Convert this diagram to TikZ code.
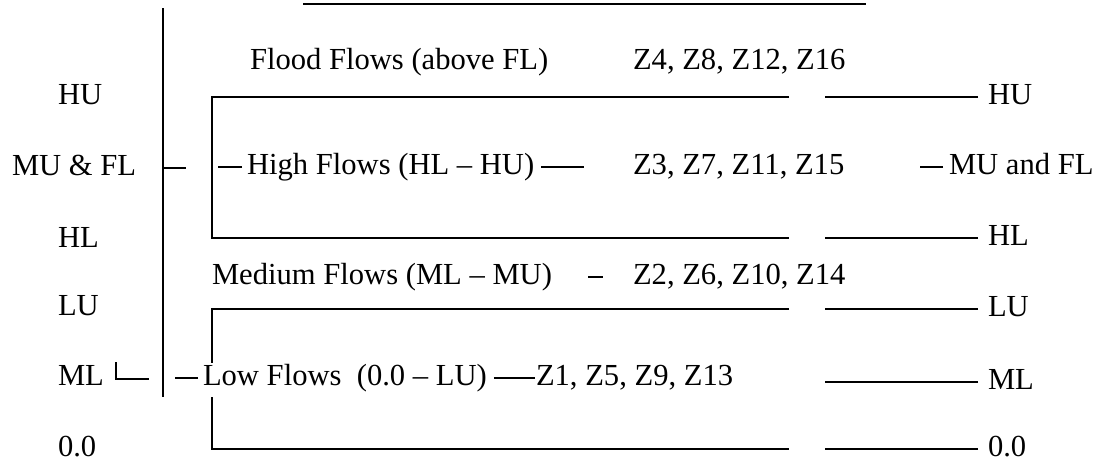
\documentclass[tikz,border=0pt]{standalone}
\usepackage{fontspec}
\setmainfont{Liberation Serif}
\begin{document}
\begin{tikzpicture}[x=0.5pt, y=-0.5pt, line width=1pt,
  lbl/.style={inner sep=0pt, anchor=west, text height=0.7em, text depth=0pt,
    font=\fontsize{15.3}{18}\selectfont}]
  \useasboundingbox (0,0) rectangle (1099,461);

  % title rule, its text lies above the cut
  \draw (303,4) -- (866,4);

  % level names on the left
  \node (lhu) [lbl] at (57,97) {HU};
  \node (lmufl) [lbl] at (11,168) {MU \& FL};
  \node (lhl) [lbl] at (57,240) {HL};
  \node (llu) [lbl] at (57,308) {LU};
  \node (lml) [lbl] at (57,378) {ML};
  \node (lzero) [lbl] at (57,449) {0.0};

  % axis
  \coordinate (axtop) at (163,8);
  \coordinate (axbot) at (163,397);
  \coordinate (axmid) at (163,168);
  \draw (axtop) -- (axbot);
  \draw (axmid) -- ++(23,0);
  \coordinate (mlc) at (116,362);
  \draw (mlc) |- (149,379);

  % the two boxes
  \coordinate (ua) at (789,97);
  \coordinate (ub) at (789,238);
  \draw (ua) -| (212,238) -- (ub);
  \coordinate (la) at (789,309);
  \coordinate (lb) at (789,449);
  \draw (la) -| (212,363);
  \draw (212,397) |- (lb);

  % level names on the right
  \node (rhu) [lbl] at (987,97) {HU};
  \node (rhl) [lbl] at (987,238) {HL};
  \node (rlu) [lbl] at (987,309) {LU};
  \node (rml) [lbl] at (987,382) {ML};
  \node (rzero) [lbl] at (987,449) {0.0};
  \node (rmufl) [lbl] at (948,167) {MU and FL};
  \foreach \n in {rhu,rhl,rlu,rml,rzero}
    \draw (\n.west) ++(-9,0) -- ++(-153,0);
  \draw (rmufl.west) ++(-5,0) -- ++(-23,0);

  % flow classes and zones
  \node (flood) [lbl] at (249,62) {Flood Flows (above FL)};
  \node (z4) [lbl] at (632,62) {Z4, Z8, Z12, Z16};
  \node (high) [lbl] at (246,167) {High Flows (HL – HU)};
  \node (z3) [lbl] at (632,167) {Z3, Z7, Z11, Z15};
  \node (medium) [lbl] at (211,277) {Medium Flows (ML – MU)};
  \node (z2) [lbl] at (632,277) {Z2, Z6, Z10, Z14};
  \node (low) [lbl] at (202,378) {Low Flows\ \ (0.0 – LU)};
  \node (z1) [lbl] at (535,378) {Z1, Z5, Z9, Z13};

  \draw (high.west) ++(-4,0) -- ++(-24,0);
  \draw (high.east) ++(6,0) -- ++(43,0);
  \draw (medium.east) ++(35,0) -- ++(15,0);
  \draw (low.west) ++(-4,0) -- ++(-23,0);
  \draw ([xshift=3pt]low.east) -- (z1.west);
\end{tikzpicture}
\end{document}
